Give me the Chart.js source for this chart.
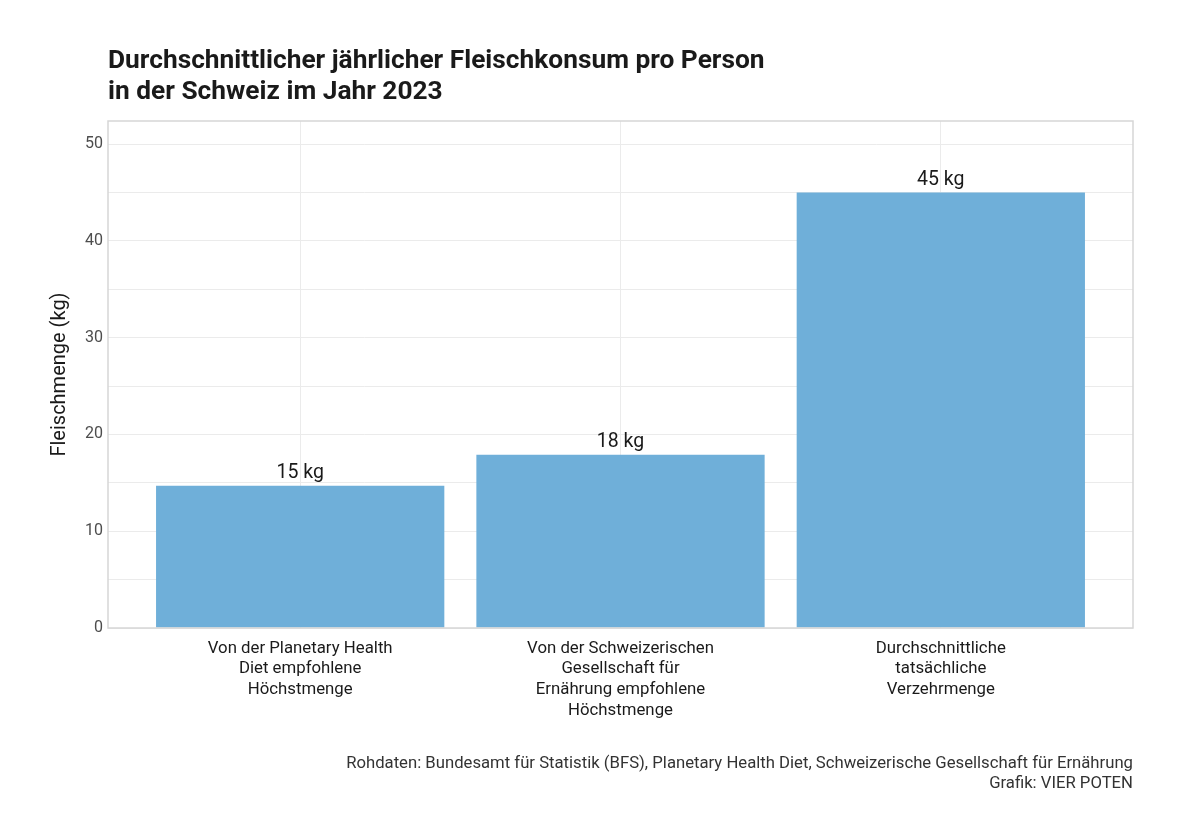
<!DOCTYPE html>
<html lang="de">
<head>
<meta charset="utf-8">
<title>Fleischkonsum Schweiz 2023</title>
<script src="https://cdn.jsdelivr.net/npm/chart.js@4.4.1/dist/chart.umd.min.js"></script>
<style>
  html,body{margin:0;padding:0;background:#fff;}
  body{width:1200px;height:835px;position:relative;overflow:hidden;font-family:Roboto,"Noto Sans",sans-serif;}
  #wrap{position:absolute;left:0;top:0;width:1200px;height:835px;}
  #title{position:absolute;left:108px;top:44px;font-size:26.3px;line-height:31px;font-weight:700;color:#1a1a1a;}
  #caption{position:absolute;right:67px;top:753px;font-size:16.7px;line-height:20px;color:#333;text-align:right;}
</style>
</head>
<body>
<div id="wrap"><canvas id="chart" width="1200" height="835"></canvas></div>
<div id="title">Durchschnittlicher jährlicher Fleischkonsum pro Person<br>in der Schweiz im Jahr 2023</div>
<div id="caption">Rohdaten: Bundesamt für Statistik (BFS), Planetary Health Diet, Schweizerische Gesellschaft für Ernährung<br>Grafik: VIER POTEN</div>
<script>
const categories = [
  ['Von der Planetary Health','Diet empfohlene','Höchstmenge'],
  ['Von der Schweizerischen','Gesellschaft für','Ernährung empfohlene','Höchstmenge'],
  ['Durchschnittliche','tatsächliche','Verzehrmenge']
];
const values = [14.7, 17.9, 45];
const valueLabels = ['15 kg', '18 kg', '45 kg'];
const yTicks = [0, 10, 20, 30, 40, 50];

const positions = categories.map((_, i) => i + 1);
const FONT = 'Roboto, "Noto Sans", sans-serif';

// Rahmen um die Zeichenfläche
const frame = {
  id:'frame',
  afterDraw(chart){
    const a = chart.chartArea, ctx = chart.ctx;
    ctx.save();
    ctx.strokeStyle = '#d6d6d6';
    ctx.lineWidth = 1.5;
    ctx.strokeRect(a.left, a.top, a.right - a.left, a.bottom - a.top);
    ctx.restore();
  }
};

// Wertebeschriftung über den Balken
const barLabels = {
  id:'barLabels',
  afterDatasetsDraw(chart){
    const ctx = chart.ctx;
    const meta = chart.getDatasetMeta(0);
    ctx.save();
    ctx.font = '19.5px ' + FONT;
    ctx.fillStyle = '#1a1a1a';
    ctx.textAlign = 'center';
    ctx.textBaseline = 'bottom';
    meta.data.forEach((bar, i) => {
      ctx.fillText(valueLabels[i], bar.x, bar.y - 3);
    });
    ctx.restore();
  }
};

new Chart(document.getElementById('chart'), {
  type:'bar',
  data:{
    datasets:[{
      data: positions.map((x, i) => ({x, y: values[i]})),
      backgroundColor:'#6fafd9',
      borderWidth:0,
      barPercentage:0.9,
      categoryPercentage:1.0
    }]
  },
  options:{
    responsive:false,
    animation:false,
    layout:{padding:{left:40, top:121, right:67, bottom:87}},
    plugins:{legend:{display:false}, tooltip:{enabled:false}},
    scales:{
      x:{
        type:'linear',
        offset:false,
        min:0.4, max:3.6,
        afterBuildTicks: s => { s.ticks = positions.map(v => ({value:v})); },
        afterFit: s => { s.height = 120; },
        grid:{color:'#ebebeb', lineWidth:1, drawTicks:false, offset:false},
        border:{display:false},
        ticks:{
          padding:10,
          autoSkip:false,
          maxRotation:0,
          color:'#1a1a1a',
          font:{size:16.8, family:FONT, lineHeight:1.24},
          callback: v => categories[v - 1]
        }
      },
      y:{
        min:0, max:52.4,
        afterBuildTicks: s => {
          const t = [];
          for (let v = 0; v <= 50; v += 5) t.push({value:v});
          s.ticks = t;
        },
        afterFit: s => { s.width = 68; },
        grid:{color:'#ebebeb', lineWidth:1, drawTicks:false},
        border:{display:false},
        title:{
          display:true,
          text:'Fleischmenge (kg)',
          color:'#1a1a1a',
          font:{size:20, family:FONT},
          padding:{top:8, bottom:0}
        },
        ticks:{
          padding:5,
          color:'#4d4d4d',
          font:{size:16, family:FONT},
          callback: v => yTicks.includes(v) ? String(v) : ''
        }
      }
    }
  },
  plugins:[frame, barLabels]
});
</script>
</body>
</html>
